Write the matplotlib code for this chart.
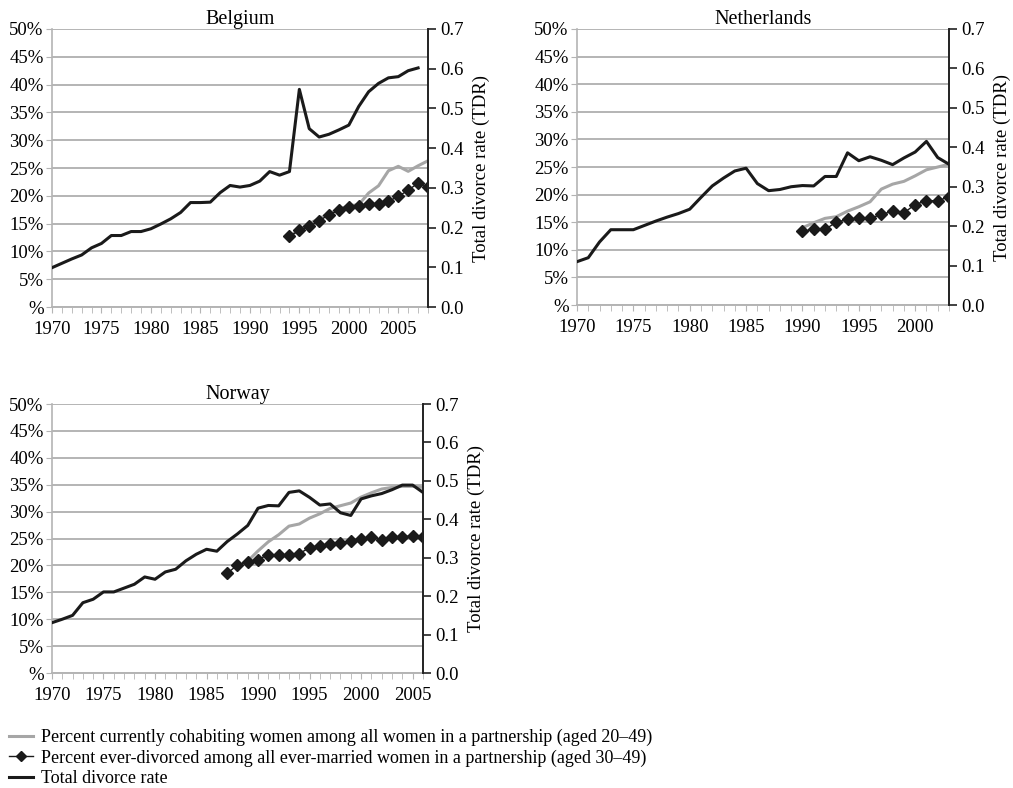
import numpy as np
import matplotlib
matplotlib.use('Agg')
import matplotlib.pyplot as plt
from matplotlib.lines import Line2D

plt.rcParams['font.family'] = ['Liberation Serif', 'DejaVu Serif']

# ---------------------------------------------------------------------------
# Data
# ---------------------------------------------------------------------------

# Belgium
BE_TDR_YEARS = np.arange(1970, 2008)
BE_TDR = [0.099, 0.110, 0.121, 0.131, 0.149, 0.160, 0.180, 0.180, 0.190, 0.190,
          0.197, 0.209, 0.222, 0.238, 0.263, 0.263, 0.264, 0.288, 0.306, 0.302,
          0.306, 0.317, 0.341, 0.332, 0.341, 0.548, 0.449, 0.428, 0.435, 0.446,
          0.458, 0.505, 0.542, 0.563, 0.577, 0.580, 0.595, 0.602]
BE_COHAB_YEARS = np.arange(1994, 2009)
BE_COHAB = [12.7, 13.9, 15.0, 15.9, 16.8, 17.6, 18.2, 18.4, 20.5, 21.8,
            24.5, 25.3, 24.4, 25.4, 26.3]
BE_DIV_YEARS = np.arange(1994, 2009)
BE_DIV = [12.7, 13.8, 14.5, 15.5, 16.6, 17.4, 18.0, 18.1, 18.6, 18.6,
          19.0, 19.9, 21.0, 22.3, 21.6]

# Netherlands
NL_TDR_YEARS = np.arange(1970, 2004)
NL_TDR = [0.110, 0.120, 0.160, 0.191, 0.191, 0.191, 0.202, 0.213, 0.223, 0.232,
          0.243, 0.273, 0.302, 0.322, 0.340, 0.347, 0.308, 0.290, 0.293, 0.300,
          0.303, 0.302, 0.326, 0.326, 0.386, 0.366, 0.376, 0.367, 0.356, 0.373,
          0.388, 0.415, 0.374, 0.357]
NL_COHAB_YEARS = np.arange(1990, 2004)
NL_COHAB = [14.0, 14.9, 15.7, 16.0, 17.0, 17.8, 18.7, 21.0, 21.9, 22.4,
            23.4, 24.5, 25.0, 25.5]
NL_DIV_YEARS = np.arange(1990, 2004)
NL_DIV = [13.4, 13.7, 13.7, 15.0, 15.5, 15.7, 15.7, 16.4, 17.0, 16.7,
          18.2, 18.9, 18.9, 19.6]

# Norway
NO_TDR_YEARS = np.arange(1970, 2007)
NO_TDR = [0.131, 0.140, 0.150, 0.183, 0.192, 0.211, 0.211, 0.221, 0.231, 0.250,
          0.244, 0.263, 0.270, 0.292, 0.309, 0.322, 0.317, 0.342, 0.362, 0.384,
          0.429, 0.436, 0.435, 0.470, 0.474, 0.457, 0.437, 0.440, 0.417, 0.410,
          0.453, 0.461, 0.467, 0.477, 0.489, 0.489, 0.470]
NO_COHAB_YEARS = np.arange(1988, 2007)
NO_COHAB = [19.9, 20.8, 22.7, 24.4, 25.7, 27.3, 27.7, 28.8, 29.6, 30.6,
            31.1, 31.6, 32.7, 33.5, 34.2, 34.5, 34.7, 34.7, 34.5]
NO_DIV_YEARS = np.arange(1987, 2007)
NO_DIV = [18.5, 20.1, 20.6, 21.1, 22.0, 22.0, 22.0, 22.2, 23.3, 23.7,
          23.9, 24.2, 24.6, 24.9, 25.2, 24.8, 25.2, 25.3, 25.5, 25.2]

LEFT_TICKS = [0, 5, 10, 15, 20, 25, 30, 35, 40, 45, 50]
LEFT_LABELS = ['%', '5%', '10%', '15%', '20%', '25%', '30%', '35%', '40%', '45%', '50%']
RIGHT_TICKS = [0.0, 0.1, 0.2, 0.3, 0.4, 0.5, 0.6, 0.7]

LEGEND_LABELS = [
    'Percent currently cohabiting women among all women in a partnership (aged 20\u201349)',
    'Percent ever-divorced among all ever-married women in a partnership (aged 30\u201349)',
    'Total divorce rate',
]

GRAY = '#a6a6a6'
GRID = '#b4b4b4'
FS = 13.5


def draw_panel(ax, title, last_year, tdr_years, tdr, cohab_years, cohab, div_years, div):
    ax.set_xlim(1970, last_year)
    ax.set_ylim(0, 50)
    ax.set_yticks(LEFT_TICKS)
    ax.set_yticklabels(LEFT_LABELS, fontsize=FS)
    ax.set_xticks(np.arange(1970, last_year + 1, 5))
    ax.set_xticks(np.arange(1970, last_year + 1), minor=True)
    ax.tick_params(axis='x', which='both', length=4, color=GRID, labelsize=FS, pad=6)
    ax.tick_params(axis='y', length=4, color=GRID, pad=2)
    ax.grid(axis='y', color=GRID, linewidth=1.4)
    ax.set_axisbelow(True)
    for s in ['top', 'right']:
        ax.spines[s].set_visible(False)
    ax.spines['left'].set_color(GRID)
    ax.spines['bottom'].set_color(GRID)
    ax.spines['left'].set_linewidth(1.2)
    ax.spines['bottom'].set_linewidth(1.4)

    ax.plot(cohab_years, cohab, color=GRAY, linewidth=2.2, zorder=3)
    ax.plot(div_years, div, color='#1a1a1a', linewidth=1.0, marker='D',
            markersize=6, zorder=4)

    ax2 = ax.twinx()
    ax2.set_ylim(0, 0.7)
    ax2.set_yticks(RIGHT_TICKS)
    ax2.set_yticklabels([f'{v:.1f}' for v in RIGHT_TICKS], fontsize=FS)
    ax2.tick_params(axis='y', length=6, width=1.2, color='#222222', pad=3)
    for s in ['top', 'left', 'bottom']:
        ax2.spines[s].set_visible(False)
    ax2.spines['right'].set_color('#222222')
    ax2.spines['right'].set_linewidth(1.4)
    ax2.plot(tdr_years, tdr, color='#1a1a1a', linewidth=2.2, zorder=5)
    ax2.set_ylabel('Total divorce rate (TDR)', fontsize=FS, labelpad=6)

    ax.set_title(title, fontsize=14.5, pad=3)
    return ax2


fig = plt.figure(figsize=(10.13, 7.88), dpi=100)

ax_be = fig.add_axes([0.0513, 0.6104, 0.3712, 0.3528])
draw_panel(ax_be, 'Belgium', 2008, BE_TDR_YEARS, BE_TDR,
           BE_COHAB_YEARS, BE_COHAB, BE_DIV_YEARS, BE_DIV)

ax_nl = fig.add_axes([0.5696, 0.6129, 0.3672, 0.3503])
draw_panel(ax_nl, 'Netherlands', 2003, NL_TDR_YEARS, NL_TDR,
           NL_COHAB_YEARS, NL_COHAB, NL_DIV_YEARS, NL_DIV)

ax_no = fig.add_axes([0.0513, 0.1459, 0.3662, 0.3414])
draw_panel(ax_no, 'Norway', 2006, NO_TDR_YEARS, NO_TDR,
           NO_COHAB_YEARS, NO_COHAB, NO_DIV_YEARS, NO_DIV)

handles = [
    Line2D([], [], color=GRAY, linewidth=2.2),
    Line2D([], [], color='#1a1a1a', linewidth=1.0, marker='D', markersize=5),
    Line2D([], [], color='#1a1a1a', linewidth=2.2),
]
fig.legend(handles, LEGEND_LABELS, loc='upper left', bbox_to_anchor=(-0.002, 0.0885),
           frameon=False, fontsize=13, handlelength=1.35, handletextpad=0.45,
           labelspacing=0.17, borderpad=0.1)

fig.savefig('out.png', dpi=100)
